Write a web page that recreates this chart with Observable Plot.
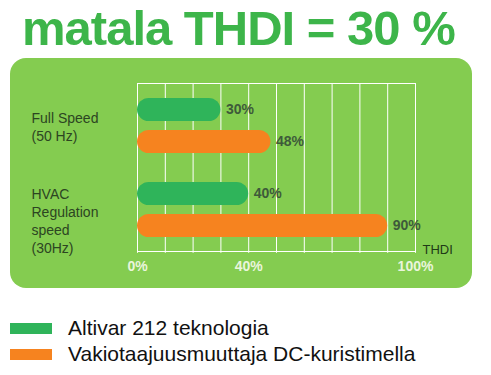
<!DOCTYPE html>
<html><head><meta charset="utf-8">
<script src="https://cdn.jsdelivr.net/npm/d3@7"></script>
<script src="https://cdn.jsdelivr.net/npm/@observablehq/plot@0.6"></script>
<style>
html,body{margin:0;padding:0;background:#fff;}
#root{position:relative;width:491px;height:375px;overflow:hidden;font-family:"Liberation Sans",Arial,sans-serif;}
#title{position:absolute;left:22px;top:0;margin:0;font-size:49px;font-weight:bold;letter-spacing:-1px;line-height:normal;color:#3db54a;white-space:nowrap;}
#box{position:absolute;left:10px;top:58px;width:462px;height:230px;background:#84cc50;border-radius:16px;}
#box svg{position:absolute;left:0;top:0;overflow:visible;}
#box svg g[aria-label^="x-axis"] text{font-weight:bold;}
.leg{position:absolute;left:10px;width:42px;height:11px;}
.legt{position:absolute;left:68px;font-size:21px;line-height:21px;color:#111;white-space:nowrap;}
</style></head>
<body><div id="root">
<div id="title"></div>
<div id="box"></div>
<div id="legend"></div>
</div>
<script>
const titleText = "matala THDI = 30 %";
const categories = ["Full Speed\n(50 Hz)", "HVAC\nRegulation\nspeed\n(30Hz)"];
const series = ["Altivar 212 teknologia", "Vakiotaajuusmuuttaja DC-kuristimella"];
const altivarValues = [30, 40];
const vakioValues = [48, 90];
const xTicks = [0, 10, 20, 30, 40, 50, 60, 70, 80, 90, 100];
const xTickLabels = ["0%", "", "", "", "40%", "", "", "", "", "", "100%"];
const axisTitle = "THDI";
const colors = ["#2fb45a", "#f6831f"];

const rows = categories.flatMap((c, i) => [
  {category: c, series: series[0], value: altivarValues[i]},
  {category: c, series: series[1], value: vakioValues[i]}
]);

document.getElementById("title").textContent = titleText;

const labelStyle = {fill: "#2c4522", fontSize: 14, lineHeight: 18/14, textAnchor: "start", lineAnchor: "top", frameAnchor: "top-left", dx: -106};

const chart = Plot.plot({
  width: 462, height: 230,
  marginLeft: 127, marginRight: 57, marginTop: 24, marginBottom: 37,
  style: {background: "transparent", color: "#eaf5dc", fontFamily: "'Liberation Sans', Arial, sans-serif", fontSize: "14px", overflow: "visible"},
  x: {domain: [0, 100], ticks: xTicks, tickFormat: (d) => xTickLabels[xTicks.indexOf(d)], tickSize: 2, tickPadding: 8, label: null},
  y: {domain: series, axis: null, paddingInner: 0.288, paddingOuter: 0.432},
  fy: {domain: categories, axis: null, padding: 0},
  color: {domain: series, range: colors},
  marks: [
    Plot.ruleX(xTicks, {stroke: "white", strokeWidth: 1}),
    Plot.frame({stroke: "white", facet: "super"}),
    Plot.barX(rows, {fy: "category", y: "series", x: "value", fill: "series", rx: 11.7}),
    Plot.text(rows, {fy: "category", y: "series", x: "value", text: (d) => d.value + "%", dx: 5, textAnchor: "start", fill: "#3e5a3a", fontSize: 14, fontWeight: "bold"}),
    Plot.text(categories.slice(0, 1), {fy: (d) => d, text: (d) => d, ...labelStyle, dy: 27}),
    Plot.text(categories.slice(1), {fy: (d) => d, text: (d) => d, ...labelStyle, dy: 19}),
    Plot.text([axisTitle], {fy: () => categories[1], text: (d) => d, frameAnchor: "bottom-right", textAnchor: "start", lineAnchor: "bottom", dx: 7, dy: 2, fill: "#1f3a17", fontSize: 13})
  ]
});
document.getElementById("box").appendChild(chart);

const legend = document.getElementById("legend");
series.forEach((s, i) => {
  const sw = document.createElement("div");
  sw.className = "leg";
  sw.style.top = (323 + i * 25.5) + "px";
  sw.style.background = colors[i];
  legend.appendChild(sw);
  const t = document.createElement("div");
  t.className = "legt";
  t.style.top = (317 + i * 25.7) + "px";
  t.textContent = s;
  legend.appendChild(t);
});
</script>
</body></html>
